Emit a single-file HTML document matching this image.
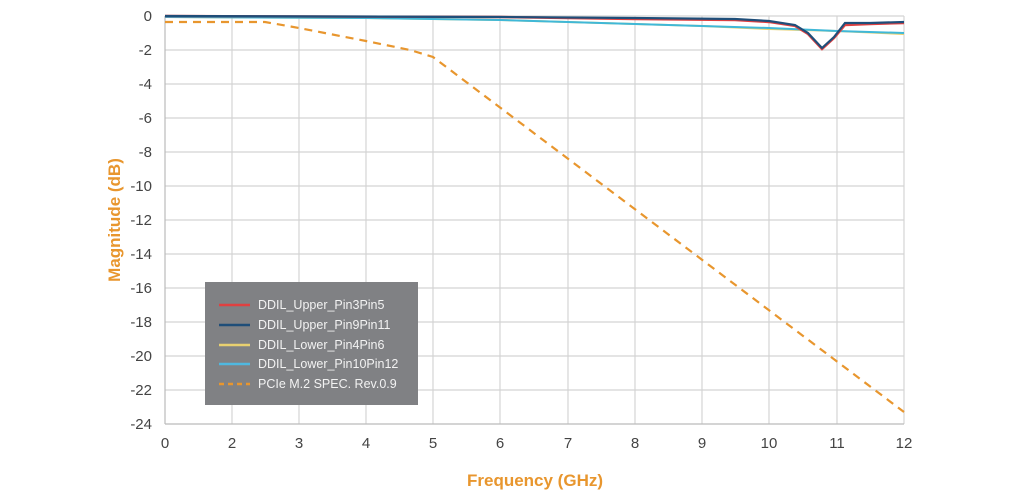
<!DOCTYPE html>
<html><head><style>
body{margin:0;background:#fff;}
svg{display:block;}
</style></head><body>
<svg width="1024" height="500" xmlns="http://www.w3.org/2000/svg" font-family="Liberation Sans, sans-serif">
<rect width="1024" height="500" fill="#fff"/>
<g stroke="#d4d4d4" stroke-width="1.2">
<line x1="232" y1="16" x2="232" y2="424"/><line x1="299" y1="16" x2="299" y2="424"/><line x1="366" y1="16" x2="366" y2="424"/><line x1="433" y1="16" x2="433" y2="424"/><line x1="500" y1="16" x2="500" y2="424"/><line x1="568" y1="16" x2="568" y2="424"/><line x1="635" y1="16" x2="635" y2="424"/><line x1="702" y1="16" x2="702" y2="424"/><line x1="769" y1="16" x2="769" y2="424"/><line x1="837" y1="16" x2="837" y2="424"/><line x1="904" y1="16" x2="904" y2="424"/>
<line x1="165" y1="50" x2="904" y2="50"/><line x1="165" y1="84" x2="904" y2="84"/><line x1="165" y1="118" x2="904" y2="118"/><line x1="165" y1="152" x2="904" y2="152"/><line x1="165" y1="186" x2="904" y2="186"/><line x1="165" y1="220" x2="904" y2="220"/><line x1="165" y1="254" x2="904" y2="254"/><line x1="165" y1="288" x2="904" y2="288"/><line x1="165" y1="322" x2="904" y2="322"/><line x1="165" y1="356" x2="904" y2="356"/><line x1="165" y1="390" x2="904" y2="390"/><line x1="165" y1="16" x2="904" y2="16"/>
</g>
<line x1="165" y1="16" x2="165" y2="424" stroke="#bbb" stroke-width="1.2"/>
<line x1="165" y1="424" x2="904" y2="424" stroke="#bbb" stroke-width="1.2"/>
<g fill="#444" font-size="15" text-anchor="end">
<text x="152" y="21">0</text><text x="152" y="55">-2</text><text x="152" y="89">-4</text><text x="152" y="123">-6</text><text x="152" y="157">-8</text><text x="152" y="191">-10</text><text x="152" y="225">-12</text><text x="152" y="259">-14</text><text x="152" y="293">-16</text><text x="152" y="327">-18</text><text x="152" y="361">-20</text><text x="152" y="395">-22</text><text x="152" y="429">-24</text>
</g>
<g fill="#444" font-size="15" text-anchor="middle">
<text x="165" y="448">0</text><text x="232" y="448">2</text><text x="299" y="448">3</text><text x="366" y="448">4</text><text x="433" y="448">5</text><text x="500" y="448">6</text><text x="568" y="448">7</text><text x="635" y="448">8</text><text x="702" y="448">9</text><text x="769" y="448">10</text><text x="837" y="448">11</text><text x="904" y="448">12</text>
</g>
<text x="535" y="486" fill="#e8962e" font-size="17" font-weight="bold" text-anchor="middle">Frequency (GHz)</text>
<text transform="translate(120,220) rotate(-90)" fill="#e8962e" font-size="17" font-weight="bold" text-anchor="middle">Magnitude (dB)</text>
<polyline fill="none" stroke="#e8962e" stroke-width="2.2" stroke-dasharray="8,6" points="165,22 265,22 299,28 366,41 410,50 433,57 904,412"/>
<polyline fill="none" stroke="#e8d070" stroke-width="2" points="165,17 366,18 500,20 635,24 702,26 769,29 837,31 904,34"/>
<polyline fill="none" stroke="#3fb8d8" stroke-width="2" points="165,17 366,18 500,20 635,24 702,26 769,28 837,31 904,33"/>
<polyline fill="none" stroke="#e04040" stroke-width="2.4" points="165,16 500,17 635,19 735,20 769,22 795,26 808,34 822,49 834,38 845,25 870,24 904,23"/>
<polyline fill="none" stroke="#1f4e79" stroke-width="2.2" points="165,16 500,17 635,18 735,19 769,21 795,25 808,33 822,48 834,37 845,23 870,23 904,22"/>
<rect x="205" y="282" width="213" height="123" fill="#808184"/>
<g stroke-width="2.5">
<line x1="219" y1="305" x2="250" y2="305" stroke="#e04040"/>
<line x1="219" y1="325" x2="250" y2="325" stroke="#1f4e79"/>
<line x1="219" y1="345" x2="250" y2="345" stroke="#e8d070"/>
<line x1="219" y1="364" x2="250" y2="364" stroke="#4fb8e0"/>
<line x1="219" y1="384" x2="250" y2="384" stroke="#e8962e" stroke-dasharray="5,4"/>
</g>
<g fill="#f2f2f2" font-size="12.5">
<text x="258" y="309">DDIL_Upper_Pin3Pin5</text>
<text x="258" y="329">DDIL_Upper_Pin9Pin11</text>
<text x="258" y="349">DDIL_Lower_Pin4Pin6</text>
<text x="258" y="368">DDIL_Lower_Pin10Pin12</text>
<text x="258" y="388">PCIe M.2 SPEC. Rev.0.9</text>
</g>
</svg>
</body></html>
